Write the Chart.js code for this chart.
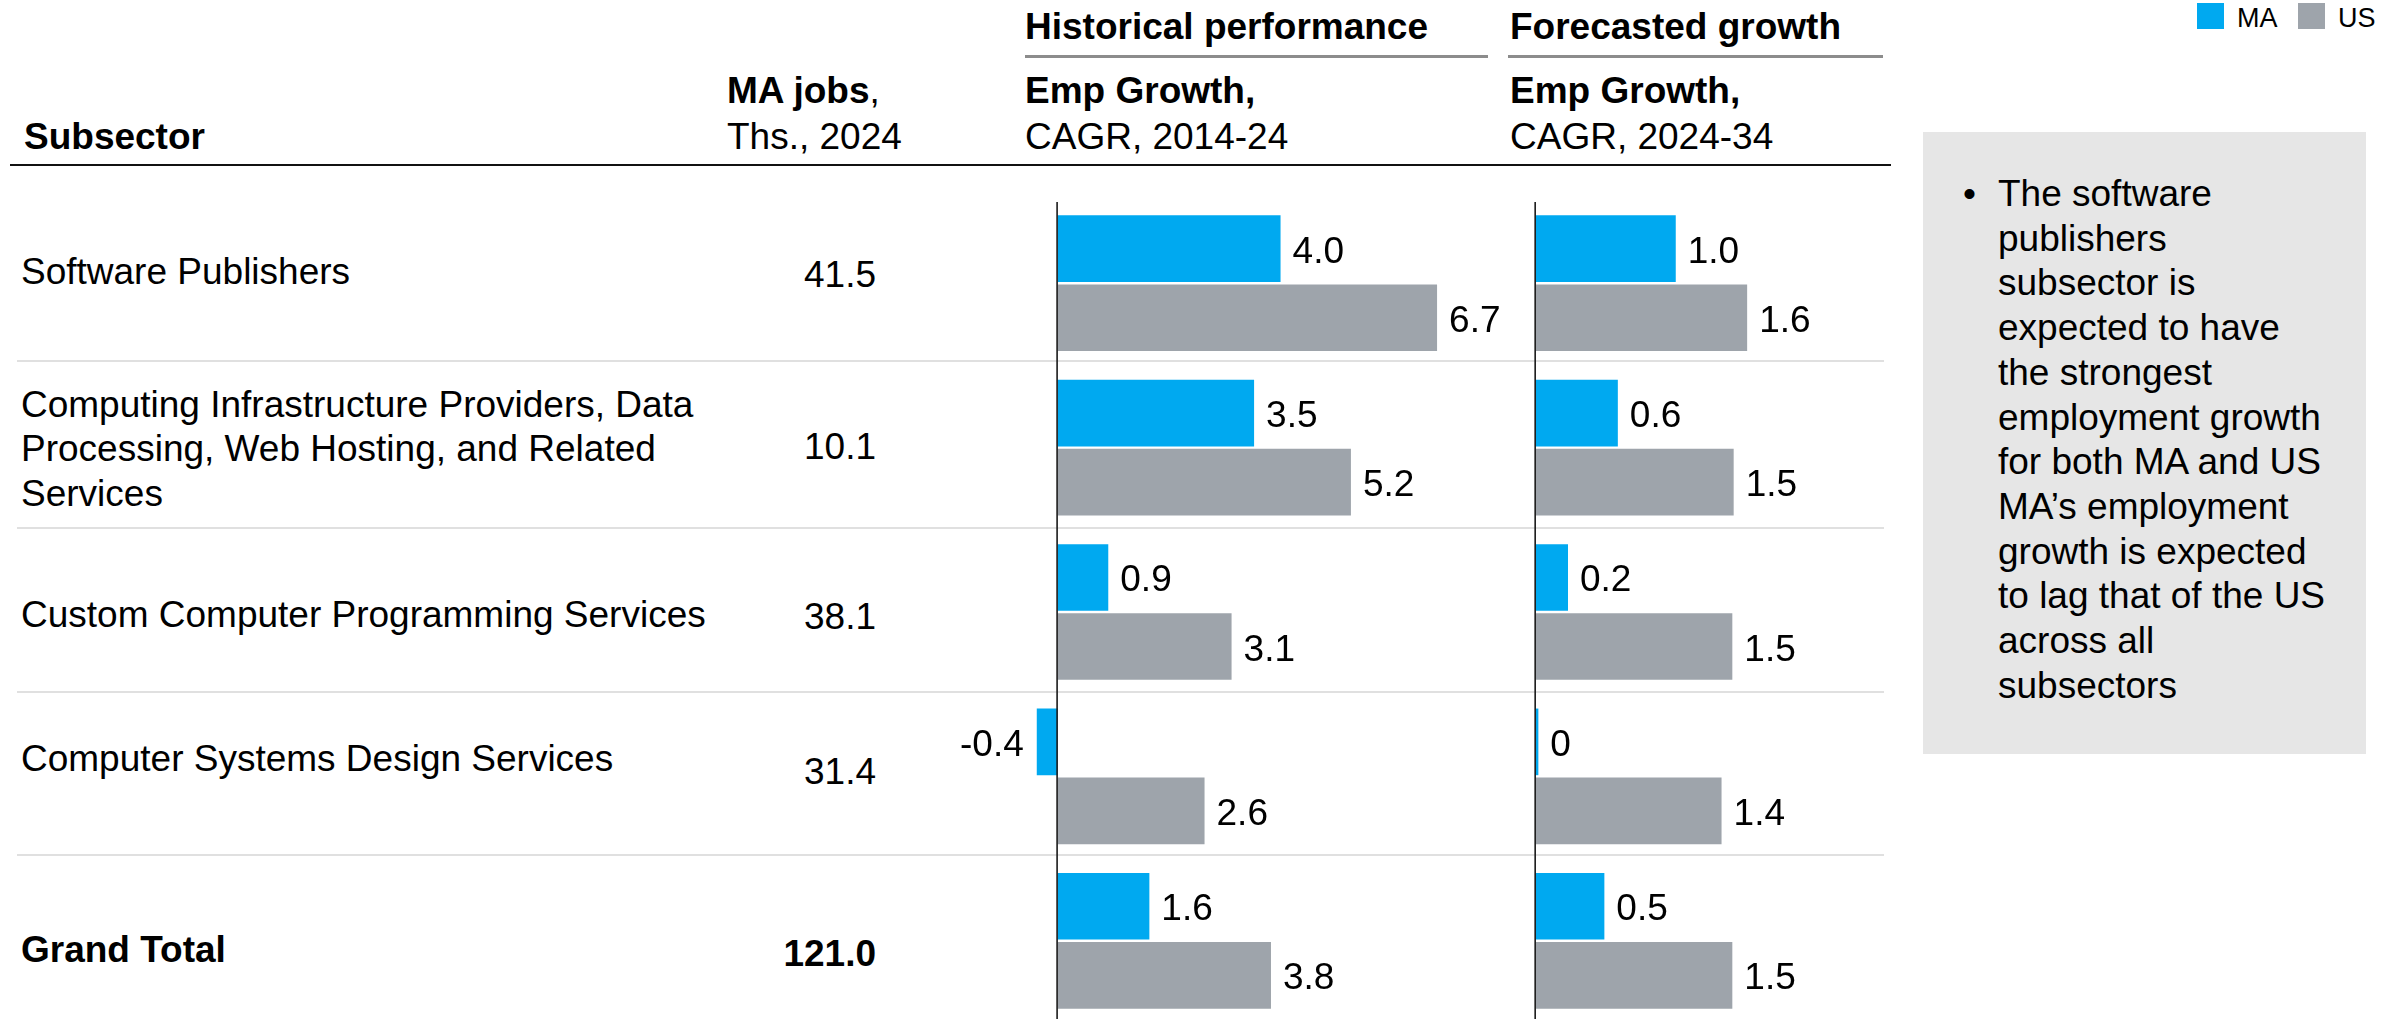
<!DOCTYPE html>
<html>
<head>
<meta charset="utf-8">
<script src="https://cdn.jsdelivr.net/npm/chart.js@4.4.1/dist/chart.umd.min.js"></script>
<style>
html,body{margin:0;padding:0;width:2397px;height:1019px;overflow:hidden;background:#fff;}
body{position:relative;font-family:"Liberation Sans",Arial,Helvetica,sans-serif;color:#000;}
.t{position:absolute;font-size:37px;line-height:44.4px;white-space:nowrap;}
.b{font-weight:bold;}
.r{text-align:right;}
.rule{position:absolute;}
canvas{position:absolute;}
#note{position:absolute;left:1923px;top:132px;width:443px;height:622px;background:#e6e6e6;}
#noteText{position:absolute;left:75px;top:40px;font-size:37px;line-height:44.7px;white-space:nowrap;}
#bullet{position:absolute;left:40px;top:40px;font-size:37px;line-height:44.7px;}
.sw{position:absolute;top:3px;width:27px;height:26px;}
.lg{position:absolute;top:2px;font-size:27px;line-height:32.4px;white-space:nowrap;}
</style>
</head>
<body>
<canvas id="histChart" width="563" height="822" style="left:945px;top:201px;width:563px;height:822px;"></canvas>
<canvas id="fcChart" width="330" height="822" style="left:1502px;top:201px;width:330px;height:822px;"></canvas>
<script>
// ---------- data ----------
const categories = [
  ['Software Publishers'],
  ['Computing Infrastructure Providers, Data', 'Processing, Web Hosting, and Related', 'Services'],
  ['Custom Computer Programming Services'],
  ['Computer Systems Design Services'],
  ['Grand Total']
];
const maJobs = [41.5, 10.1, 38.1, 31.4, 121.0];
const seriesNames = ['MA', 'US'];
const histMA = [3.96, 3.49, 0.90, -0.37, 1.63];
const histUS = [6.74, 5.21, 3.09, 2.61, 3.79];
const fcMA = [1.04, 0.61, 0.24, 0.02, 0.51];
const fcUS = [1.57, 1.47, 1.46, 1.38, 1.46];
const headSubsector = 'Subsector';
const headJobs = ['MA jobs', ',', 'Ths., 2024'];
const headHist = ['Historical performance', 'Emp Growth,', 'CAGR, 2014-24'];
const headFc = ['Forecasted growth', 'Emp Growth,', 'CAGR, 2024-34'];
const noteLines = ['The software', 'publishers', 'subsector is', 'expected to have', 'the strongest',
  'employment growth', 'for both MA and US', 'MA\u2019s employment', 'growth is expected',
  'to lag that of the US', 'across all', 'subsectors'];

// ---------- styles / layout ----------
const MA_COLOR = '#00a9f0';
const US_COLOR = '#9ea4ab';
const FONT = '"Liberation Sans", Arial, Helvetica, sans-serif';
const labelBase = [285, 418, 628, 772, 963];
const jobsBase = [288, 460, 630, 785, 967];
const totalIndex = categories.length - 1;

function txt(s, x, base, cls, extra) {
  const d = document.createElement('div');
  d.className = 't ' + (cls || '');
  d.style.left = x + 'px';
  d.style.top = (base - 35) + 'px';
  if (extra) Object.assign(d.style, extra);
  d.innerHTML = s;
  document.body.appendChild(d);
  return d;
}
function rule(x, y, w, h, c) {
  const d = document.createElement('div');
  d.className = 'rule';
  Object.assign(d.style, {left: x + 'px', top: y + 'px', width: w + 'px', height: h + 'px', background: c});
  document.body.insertBefore(d, document.body.firstChild);
}

// headers
txt(headHist[0], 1025, 40, 'b');
txt(headFc[0], 1510, 40, 'b');
rule(1025, 55, 463, 3, '#8c8c8c');
rule(1508, 55, 375, 3, '#8c8c8c');
txt(headHist[1], 1025, 104, 'b');
txt(headFc[1], 1510, 104, 'b');
txt(headHist[2], 1025, 150, '');
txt(headFc[2], 1510, 150, '');
txt('<b>' + headJobs[0] + '</b>' + headJobs[1], 727, 104, '');
txt(headJobs[2], 727, 150, '');
txt(headSubsector, 24, 150, 'b');
rule(10, 164, 1881, 2, '#111');

// row separators
[360, 527, 691, 854].forEach(y => rule(17, y, 1867, 2, '#e0e0e0'));

// rows
categories.forEach((lines, i) => {
  const bold = i === totalIndex ? 'b' : '';
  txt(lines.join('<br>'), 21, labelBase[i], bold);
  txt(maJobs[i].toFixed(1), 676, jobsBase[i], bold + ' r', {width: '200px'});
});

// legend
(function () {
  const items = [[seriesNames[0], MA_COLOR, 2197, 2237], [seriesNames[1], US_COLOR, 2298, 2338]];
  items.forEach(([name, col, sx, tx]) => {
    const s = document.createElement('div');
    s.className = 'sw'; s.style.left = sx + 'px'; s.style.background = col;
    document.body.appendChild(s);
    const t = document.createElement('div');
    t.className = 'lg'; t.style.left = tx + 'px'; t.textContent = name;
    document.body.appendChild(t);
  });
})();

// note box
(function () {
  const box = document.createElement('div');
  box.id = 'note';
  const b = document.createElement('div');
  b.id = 'bullet'; b.textContent = '\u2022';
  const t = document.createElement('div');
  t.id = 'noteText'; t.innerHTML = noteLines.join('<br>');
  box.appendChild(b); box.appendChild(t);
  document.body.appendChild(box);
})();

// ---------- charts ----------
function fmt(v) { return Math.abs(v) < 0.05 ? '0' : v.toFixed(1); }

const zeroLine = {
  id: 'zeroLine',
  afterDatasetsDraw(chart) {
    const ctx = chart.ctx, xs = chart.scales.x;
    const x = xs.getPixelForValue(0) - 0.5;
    ctx.save();
    ctx.strokeStyle = '#1a1a1a';
    ctx.lineWidth = 1.6;
    ctx.beginPath();
    ctx.moveTo(x, chart.chartArea.top + 1);
    ctx.lineTo(x, chart.height);
    ctx.stroke();
    ctx.restore();
  }
};
const valueLabels = {
  id: 'valueLabels',
  afterDatasetsDraw(chart) {
    const ctx = chart.ctx;
    ctx.save();
    ctx.font = '37px ' + FONT;
    ctx.fillStyle = '#000';
    ctx.textBaseline = 'alphabetic';
    chart.data.datasets.forEach((ds, di) => {
      chart.getDatasetMeta(di).data.forEach((el, i) => {
        const v = ds.data[i];
        if (v < 0) {
          ctx.textAlign = 'right';
          ctx.fillText(fmt(v), el.x - 13, el.y + 14);
        } else {
          ctx.textAlign = 'left';
          ctx.fillText(fmt(v), el.x + 12, el.y + 14);
        }
      });
    });
    ctx.restore();
  }
};

function makeChart(id, maVals, usVals, xmin, xmax) {
  return new Chart(document.getElementById(id), {
    type: 'bar',
    data: {
      labels: categories.map(l => l.join(' ')),
      datasets: [
        {label: seriesNames[0], data: maVals, backgroundColor: MA_COLOR, categoryPercentage: 0.84, barPercentage: 0.965, borderWidth: 0},
        {label: seriesNames[1], data: usVals, backgroundColor: US_COLOR, categoryPercentage: 0.84, barPercentage: 0.965, borderWidth: 0}
      ]
    },
    options: {
      indexAxis: 'y',
      responsive: false,
      maintainAspectRatio: false,
      animation: false,
      layout: {padding: 0},
      plugins: {legend: {display: false}, tooltip: {enabled: false}},
      scales: {
        x: {display: false, min: xmin, max: xmax},
        y: {display: false}
      }
    },
    plugins: [zeroLine, valueLabels]
  });
}
makeChart('histChart', histMA, histUS, -2, 8);
makeChart('fcChart', fcMA, fcUS, -0.25, 2.2);
</script>
</body>
</html>
